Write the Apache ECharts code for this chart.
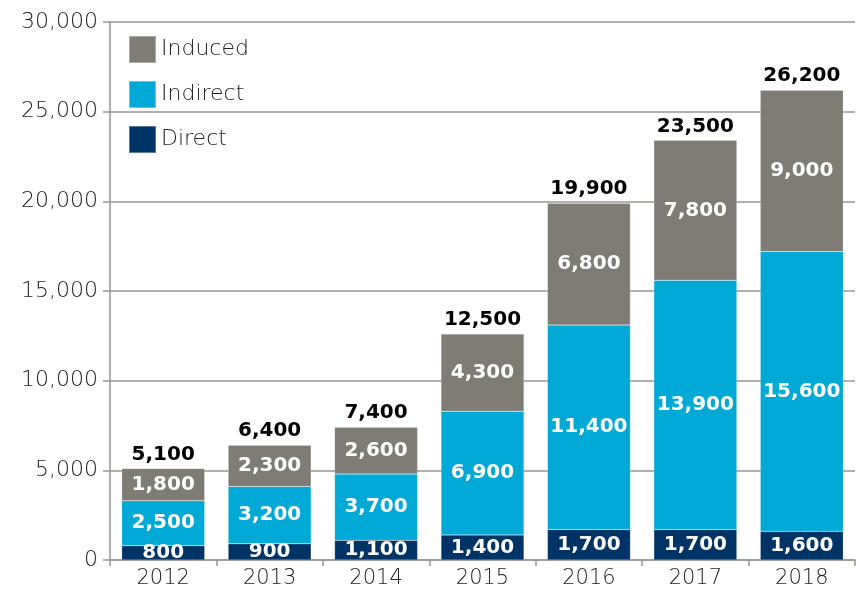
<!DOCTYPE html>
<html>
<head>
<meta charset="utf-8">
<script src="https://cdn.jsdelivr.net/npm/echarts@6/dist/echarts.min.js"></script>
<style>
  html, body { margin: 0; padding: 0; background: #fff; }
  #chart { width: 856px; height: 590px; }
</style>
</head>
<body>
<div id="chart"></div>
<script>
// values
var years = ['2012', '2013', '2014', '2015', '2016', '2017', '2018'];
var direct = [800, 900, 1100, 1400, 1700, 1700, 1600];
var indirect = [2500, 3200, 3700, 6900, 11400, 13900, 15600];
var induced = [1800, 2300, 2600, 4300, 6800, 7800, 9000];
var totals = [5100, 6400, 7400, 12500, 19900, 23500, 26200];

var FONT = '"DejaVu Sans", sans-serif';
var fmt = function (v) { return v.toLocaleString('en-US'); };

var chart = echarts.init(document.getElementById('chart'));

function segment(name, data, color) {
  return {
    name: name,
    type: 'bar',
    stack: 'jobs',
    data: data,
    barWidth: '78%',
    itemStyle: { color: color, borderColor: 'rgba(255,255,255,0.35)', borderWidth: 0.5 },
    label: {
      show: true,
      position: 'inside',
      color: '#fff',
      fontFamily: FONT,
      fontWeight: 'bold',
      fontSize: 20,
      formatter: function (p) { return fmt(p.value); }
    }
  };
}

chart.setOption({
  animation: false,
  grid: { left: 110, right: 1, top: 22, bottom: 30 },
  legend: {
    orient: 'vertical',
    left: 128,
    top: 35,
    padding: 0,
    itemWidth: 27,
    itemHeight: 27,
    itemGap: 16,
    icon: 'rect',
    data: ['Induced', 'Indirect', 'Direct'],
    textStyle: { fontFamily: FONT, fontWeight: 300, fontSize: 22, color: '#222' }
  },
  xAxis: {
    type: 'category',
    data: years,
    axisLine: { lineStyle: { color: '#999691', width: 1.5 } },
    axisTick: { show: true, length: 6, lineStyle: { color: '#999691', width: 1.5 } },
    axisLabel: { fontFamily: FONT, fontWeight: 300, fontSize: 21, color: '#222', margin: 8 }
  },
  yAxis: {
    type: 'value',
    min: 0,
    max: 30000,
    interval: 5000,
    axisLine: { show: true, lineStyle: { color: '#999691', width: 1.5 } },
    axisTick: { show: true, length: 7, lineStyle: { color: '#999691', width: 1.5 } },
    splitLine: { lineStyle: { color: '#999691', width: 1.5 } },
    axisLabel: {
      fontFamily: FONT, fontWeight: 300, fontSize: 22, color: '#222', margin: 12,
      formatter: function (v) { return fmt(v); }
    }
  },
  series: [
    segment('Direct', direct, '#003466'),
    segment('Indirect', indirect, '#00a9d6'),
    segment('Induced', induced, '#7f7b75'),
    {
      name: 'Total',
      type: 'bar',
      stack: 'jobs',
      data: totals.map(function () { return 0; }),
      itemStyle: { color: 'transparent' },
      label: {
        show: true,
        position: 'top',
        distance: 4,
        color: '#000',
        fontFamily: FONT,
        fontWeight: 'bold',
        fontSize: 20,
        formatter: function (p) { return fmt(totals[p.dataIndex]); }
      }
    }
  ]
});
</script>
</body>
</html>
